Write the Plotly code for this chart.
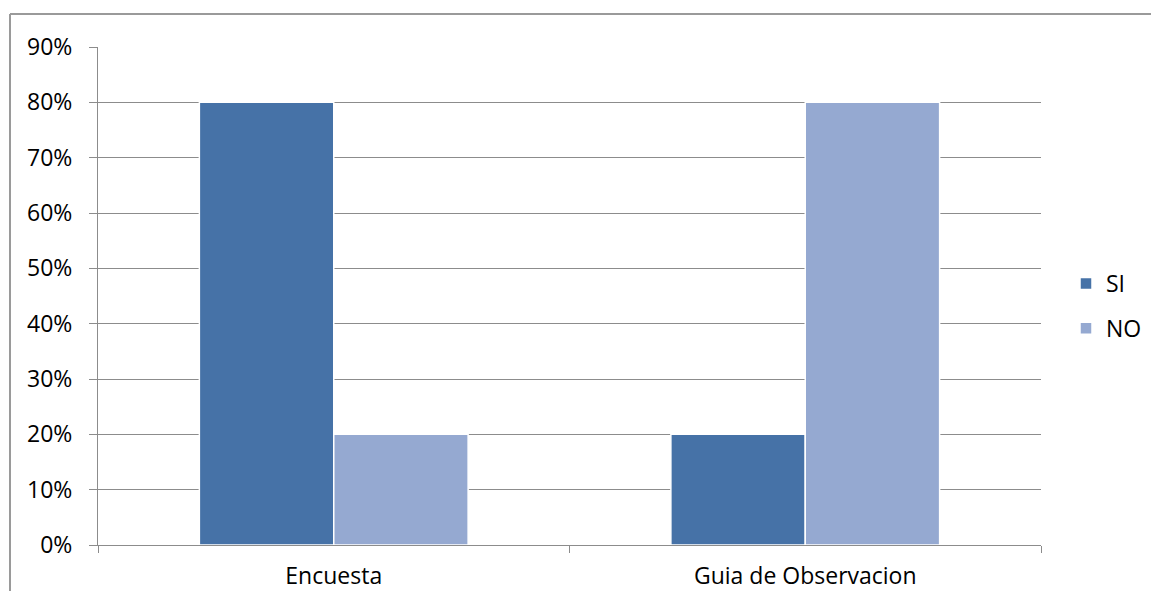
import plotly.graph_objects as go

categories = ["Encuesta", "Guia de Observacion"]
si_values = [0.80, 0.20]
no_values = [0.20, 0.80]
y_ticks = [0, 0.1, 0.2, 0.3, 0.4, 0.5, 0.6, 0.7, 0.8, 0.9]
y_tick_labels = ["0%", "10%", "20%", "30%", "40%", "50%", "60%", "70%", "80%", "90%"]

W, H = 1151, 591
L, R, T, B = 98, 110, 47, 46
pw, ph = W - L - R, H - T - B

def px_x(x):
    return (x - L) / pw

def px_y(y):
    return (H - B - y) / ph

FONT = "Open Sans"
FS = 23
GRID = "#8c8c8c"

fig = go.Figure()
fig.add_trace(go.Bar(
    name="SI", x=categories, y=si_values,
    marker=dict(color="#4672A7", line=dict(color="white", width=1.5)),
    legendgroup="si",
))
fig.add_trace(go.Bar(
    name="NO", x=categories, y=no_values,
    marker=dict(color="#95A9D1", line=dict(color="white", width=1.5)),
    legendgroup="no",
))

fig.update_layout(
    width=W, height=H,
    margin=dict(l=L, r=R, t=T, b=B, autoexpand=False),
    paper_bgcolor="white", plot_bgcolor="white",
    barmode="group", bargap=0.43, bargroupgap=0,
    font=dict(family=FONT, size=FS, color="#000000"),
    legend=dict(
        x=px_x(1066), y=px_y(262), xanchor="left", yanchor="top",
        font=dict(size=FS), tracegroupgap=12, itemwidth=30,
        bgcolor="rgba(0,0,0,0)",
    ),
    showlegend=True,
)
fig.update_xaxes(
    type="category", range=[-0.5, 1.5],
    showline=True, linecolor=GRID, linewidth=1,
    ticks="outside", tickson="boundaries", ticklen=7, tickcolor=GRID,
    showgrid=False, tickfont=dict(size=FS), ticklabelstandoff=10,
)
fig.update_yaxes(
    range=[0, 0.9], tickvals=y_ticks, ticktext=y_tick_labels,
    showline=True, linecolor=GRID, linewidth=1,
    ticks="outside", ticklen=8, tickcolor=GRID,
    showgrid=True, gridcolor=GRID, gridwidth=1,
    tickfont=dict(size=FS), ticklabelstandoff=12, zeroline=False,
)

# Outer chart frame (top and left edges)
fig.add_shape(type="line", xref="paper", yref="paper",
              x0=px_x(10), x1=px_x(W + 5), y0=px_y(14), y1=px_y(14),
              line=dict(color="#9a9a9a", width=2))
fig.add_shape(type="line", xref="paper", yref="paper",
              x0=px_x(10), x1=px_x(10), y0=px_y(14), y1=px_y(H + 5),
              line=dict(color="#9a9a9a", width=2))

fig.write_html("out.html")
